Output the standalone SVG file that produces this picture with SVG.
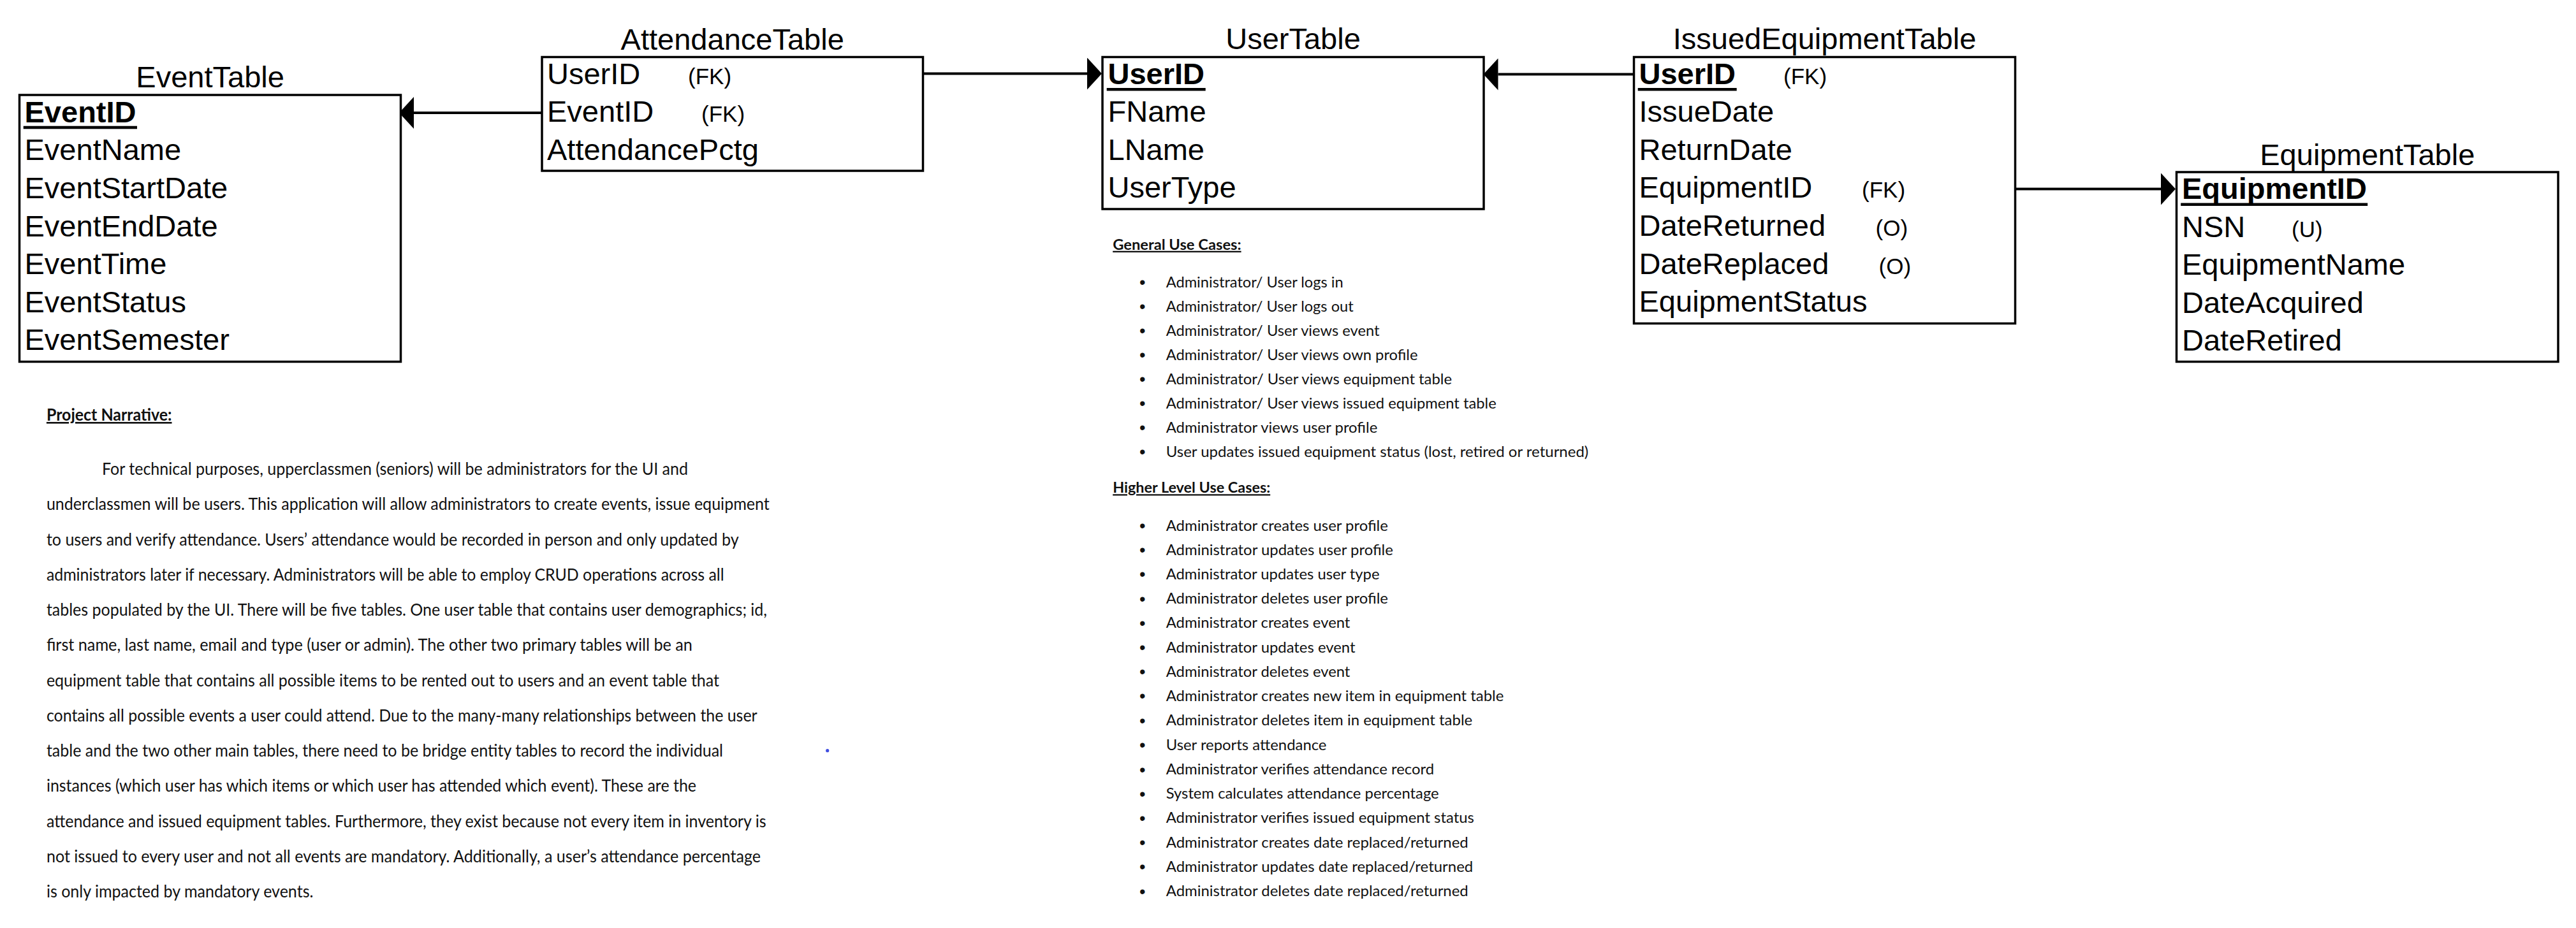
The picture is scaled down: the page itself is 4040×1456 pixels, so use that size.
<svg xmlns="http://www.w3.org/2000/svg" width="4040" height="1456" viewBox="0 0 4040 1456">
<style>
.bg{fill:#fff}
.box{fill:#fff;stroke:#000;stroke-width:3.5}
.title{font-family:"Liberation Sans",Arial,sans-serif;font-size:47px;text-anchor:middle;fill:#000}
.row{font-family:"Liberation Sans",Arial,sans-serif;font-size:47px;fill:#000}
.key{font-weight:bold}
.tag{font-family:"Liberation Sans",Arial,sans-serif;font-size:35px;fill:#000}
.ul{fill:#000}
.conn{stroke:#000;stroke-width:4;fill:none;marker-end:url(#arr)}
.body{font-family:Lato,"Liberation Sans",sans-serif;font-size:26.5px;fill:#111}
.uc{font-family:Lato,"Liberation Sans",sans-serif;font-size:23px;fill:#111}
.hd{font-weight:bold;text-decoration:underline}
.bul{font-family:"Liberation Sans",Arial,sans-serif;font-size:27px;text-anchor:middle;fill:#111}
</style>
<defs>
<marker id="arr" markerUnits="userSpaceOnUse" viewBox="0 0 23 50" markerWidth="23" markerHeight="50" refX="0" refY="25" orient="auto">
<path d="M0,0 L23,25 L0,50 Z" fill="#000"/>
</marker>
</defs>
<rect class="bg" x="0" y="0" width="4040" height="1456"/>

<g id="connectors">
<path class="conn" d="M850,177 H649"/>
<path class="conn" d="M1447.5,115.5 H1705"/>
<path class="conn" d="M2562.5,116.5 H2349.5"/>
<path class="conn" d="M3160.5,296.5 H3389"/>
</g>

<g id="EventTable">
<text class="title" x="329.6" y="137">EventTable</text>
<rect class="box" x="30.5" y="149" width="598" height="418.5"/>
<text class="row key" x="38.5" y="191.7">EventID</text>
<rect class="ul" x="36.7" y="197.7" width="178.3" height="4.6"/>
<text class="row" x="38.5" y="251.3">EventName</text>
<text class="row" x="38.5" y="310.9">EventStartDate</text>
<text class="row" x="38.5" y="370.5">EventEndDate</text>
<text class="row" x="38.5" y="430.1">EventTime</text>
<text class="row" x="38.5" y="489.7">EventStatus</text>
<text class="row" x="38.5" y="549.3">EventSemester</text>
</g>

<g id="AttendanceTable">
<text class="title" x="1148.7" y="77.5">AttendanceTable</text>
<rect class="box" x="850" y="89.5" width="597.5" height="178.5"/>
<text class="row" x="858" y="131.5">UserID</text>
<text class="tag" x="1079" y="131.5">(FK)</text>
<text class="row" x="858" y="191.1">EventID</text>
<text class="tag" x="1100" y="191.1">(FK)</text>
<text class="row" x="858" y="250.7">AttendancePctg</text>
</g>

<g id="UserTable">
<text class="title" x="2028" y="77">UserTable</text>
<rect class="box" x="1729" y="89.5" width="598" height="238.5"/>
<text class="row key" x="1737.5" y="131.5">UserID</text>
<rect class="ul" x="1735.7" y="138" width="155" height="4.5"/>
<text class="row" x="1737.5" y="191.1">FName</text>
<text class="row" x="1737.5" y="250.7">LName</text>
<text class="row" x="1737.5" y="310.3">UserType</text>
</g>

<g id="IssuedEquipmentTable">
<text class="title" x="2861.5" y="77">IssuedEquipmentTable</text>
<rect class="box" x="2562.5" y="89.5" width="598" height="418"/>
<text class="row key" x="2570.5" y="131.5">UserID</text>
<rect class="ul" x="2568.7" y="138" width="155" height="4.5"/>
<text class="tag" x="2797" y="131.5">(FK)</text>
<text class="row" x="2570.5" y="191.1">IssueDate</text>
<text class="row" x="2570.5" y="250.7">ReturnDate</text>
<text class="row" x="2570.5" y="310.3">EquipmentID</text>
<text class="tag" x="2920" y="310.3">(FK)</text>
<text class="row" x="2570.5" y="369.9">DateReturned</text>
<text class="tag" x="2941.5" y="369.9">(O)</text>
<text class="row" x="2570.5" y="429.5">DateReplaced</text>
<text class="tag" x="2946.5" y="429.5">(O)</text>
<text class="row" x="2570.5" y="489.1">EquipmentStatus</text>
</g>

<g id="EquipmentTable">
<text class="title" x="3712.8" y="258.5">EquipmentTable</text>
<rect class="box" x="3413.5" y="270" width="598.5" height="297.5"/>
<text class="row key" x="3422" y="312">EquipmentID</text>
<rect class="ul" x="3420.2" y="318.5" width="293" height="4.5"/>
<text class="row" x="3422" y="371.6">NSN</text>
<text class="tag" x="3594" y="371.6">(U)</text>
<text class="row" x="3422" y="431.2">EquipmentName</text>
<text class="row" x="3422" y="490.8">DateAcquired</text>
<text class="row" x="3422" y="550.4">DateRetired</text>
</g>

<g id="ProjectNarrative">
<text class="body hd" x="72.9" y="660" textLength="196.6" lengthAdjust="spacingAndGlyphs">Project Narrative:</text>
<text class="body" x="160" y="745" textLength="919" lengthAdjust="spacingAndGlyphs">For technical purposes, upperclassmen (seniors) will be administrators for the UI and</text>
<text class="body" x="72.9" y="800.3" textLength="1133.9" lengthAdjust="spacingAndGlyphs">underclassmen will be users. This application will allow administrators to create events, issue equipment</text>
<text class="body" x="72.9" y="855.5" textLength="1085.7" lengthAdjust="spacingAndGlyphs">to users and verify attendance. Users’ attendance would be recorded in person and only updated by</text>
<text class="body" x="72.9" y="910.8" textLength="1062.7" lengthAdjust="spacingAndGlyphs">administrators later if necessary. Administrators will be able to employ CRUD operations across all</text>
<text class="body" x="72.9" y="966" textLength="1130.1" lengthAdjust="spacingAndGlyphs">tables populated by the UI. There will be five tables. One user table that contains user demographics; id,</text>
<text class="body" x="72.9" y="1021.3" textLength="1013" lengthAdjust="spacingAndGlyphs">first name, last name, email and type (user or admin). The other two primary tables will be an</text>
<text class="body" x="72.9" y="1076.5" textLength="1055.1" lengthAdjust="spacingAndGlyphs">equipment table that contains all possible items to be rented out to users and an event table that</text>
<text class="body" x="72.9" y="1131.8" textLength="1114.7" lengthAdjust="spacingAndGlyphs">contains all possible events a user could attend. Due to the many-many relationships between the user</text>
<text class="body" x="72.9" y="1187" textLength="1061.1" lengthAdjust="spacingAndGlyphs">table and the two other main tables, there need to be bridge entity tables to record the individual</text>
<text class="body" x="72.9" y="1242.3" textLength="1019.1" lengthAdjust="spacingAndGlyphs">instances (which user has which items or which user has attended which event). These are the</text>
<text class="body" x="72.9" y="1297.5" textLength="1128.6" lengthAdjust="spacingAndGlyphs">attendance and issued equipment tables. Furthermore, they exist because not every item in inventory is</text>
<text class="body" x="72.9" y="1352.8" textLength="1120.1" lengthAdjust="spacingAndGlyphs">not issued to every user and not all events are mandatory. Additionally, a user’s attendance percentage</text>
<text class="body" x="72.9" y="1408" textLength="418.5" lengthAdjust="spacingAndGlyphs">is only impacted by mandatory events.</text>
</g>

<circle cx="1297.7" cy="1177.7" r="2.6" fill="#3f4de0"/>

<g id="UseCases">
<text class="uc hd" x="1745.2" y="391.7" textLength="201.4" lengthAdjust="spacingAndGlyphs">General Use Cases:</text>
<text class="bul" x="1791.8" y="452">•</text><text class="uc" x="1828.7" y="450.5" textLength="278" lengthAdjust="spacingAndGlyphs">Administrator/ User logs in</text>
<text class="bul" x="1791.8" y="490">•</text><text class="uc" x="1828.7" y="488.5" textLength="294" lengthAdjust="spacingAndGlyphs">Administrator/ User logs out</text>
<text class="bul" x="1791.8" y="528">•</text><text class="uc" x="1828.7" y="526.5" textLength="334.8" lengthAdjust="spacingAndGlyphs">Administrator/ User views event</text>
<text class="bul" x="1791.8" y="566">•</text><text class="uc" x="1828.7" y="564.5" textLength="394.8" lengthAdjust="spacingAndGlyphs">Administrator/ User views own profile</text>
<text class="bul" x="1791.8" y="604">•</text><text class="uc" x="1828.7" y="602.5" textLength="448.3" lengthAdjust="spacingAndGlyphs">Administrator/ User views equipment table</text>
<text class="bul" x="1791.8" y="642">•</text><text class="uc" x="1828.7" y="640.5" textLength="518" lengthAdjust="spacingAndGlyphs">Administrator/ User views issued equipment table</text>
<text class="bul" x="1791.8" y="680">•</text><text class="uc" x="1828.7" y="678.5" textLength="331.6" lengthAdjust="spacingAndGlyphs">Administrator views user profile</text>
<text class="bul" x="1791.8" y="718">•</text><text class="uc" x="1828.7" y="716.5" textLength="662.6" lengthAdjust="spacingAndGlyphs">User updates issued equipment status (lost, retired or returned)</text>
<text class="uc hd" x="1745.2" y="773.3" textLength="247" lengthAdjust="spacingAndGlyphs">Higher Level Use Cases:</text>
<text class="bul" x="1791.8" y="834">•</text><text class="uc" x="1828.7" y="832.5" textLength="348.2" lengthAdjust="spacingAndGlyphs">Administrator creates user profile</text>
<text class="bul" x="1791.8" y="872.2">•</text><text class="uc" x="1828.7" y="870.7" textLength="356.2" lengthAdjust="spacingAndGlyphs">Administrator updates user profile</text>
<text class="bul" x="1791.8" y="910.4">•</text><text class="uc" x="1828.7" y="908.9" textLength="334.8" lengthAdjust="spacingAndGlyphs">Administrator updates user type</text>
<text class="bul" x="1791.8" y="948.6">•</text><text class="uc" x="1828.7" y="947.1" textLength="348.2" lengthAdjust="spacingAndGlyphs">Administrator deletes user profile</text>
<text class="bul" x="1791.8" y="986.8">•</text><text class="uc" x="1828.7" y="985.3" textLength="288.7" lengthAdjust="spacingAndGlyphs">Administrator creates event</text>
<text class="bul" x="1791.8" y="1025">•</text><text class="uc" x="1828.7" y="1023.5" textLength="296.8" lengthAdjust="spacingAndGlyphs">Administrator updates event</text>
<text class="bul" x="1791.8" y="1063.2">•</text><text class="uc" x="1828.7" y="1061.7" textLength="288.7" lengthAdjust="spacingAndGlyphs">Administrator deletes event</text>
<text class="bul" x="1791.8" y="1101.4">•</text><text class="uc" x="1828.7" y="1099.9" textLength="529.7" lengthAdjust="spacingAndGlyphs">Administrator creates new item in equipment table</text>
<text class="bul" x="1791.8" y="1139.6">•</text><text class="uc" x="1828.7" y="1138.1" textLength="480.5" lengthAdjust="spacingAndGlyphs">Administrator deletes item in equipment table</text>
<text class="bul" x="1791.8" y="1178.3">•</text><text class="uc" x="1828.7" y="1176.8" textLength="251.8" lengthAdjust="spacingAndGlyphs">User reports attendance</text>
<text class="bul" x="1791.8" y="1216.5">•</text><text class="uc" x="1828.7" y="1215" textLength="420.5" lengthAdjust="spacingAndGlyphs">Administrator verifies attendance record</text>
<text class="bul" x="1791.8" y="1254.7">•</text><text class="uc" x="1828.7" y="1253.2" textLength="428" lengthAdjust="spacingAndGlyphs">System calculates attendance percentage</text>
<text class="bul" x="1791.8" y="1292.9">•</text><text class="uc" x="1828.7" y="1291.4" textLength="483.2" lengthAdjust="spacingAndGlyphs">Administrator verifies issued equipment status</text>
<text class="bul" x="1791.8" y="1331.1">•</text><text class="uc" x="1828.7" y="1329.6" textLength="474.1" lengthAdjust="spacingAndGlyphs">Administrator creates date replaced/returned</text>
<text class="bul" x="1791.8" y="1369.3">•</text><text class="uc" x="1828.7" y="1367.8" textLength="481.5" lengthAdjust="spacingAndGlyphs">Administrator updates date replaced/returned</text>
<text class="bul" x="1791.8" y="1407.5">•</text><text class="uc" x="1828.7" y="1406" textLength="474.1" lengthAdjust="spacingAndGlyphs">Administrator deletes date replaced/returned</text>
</g>
</svg>
